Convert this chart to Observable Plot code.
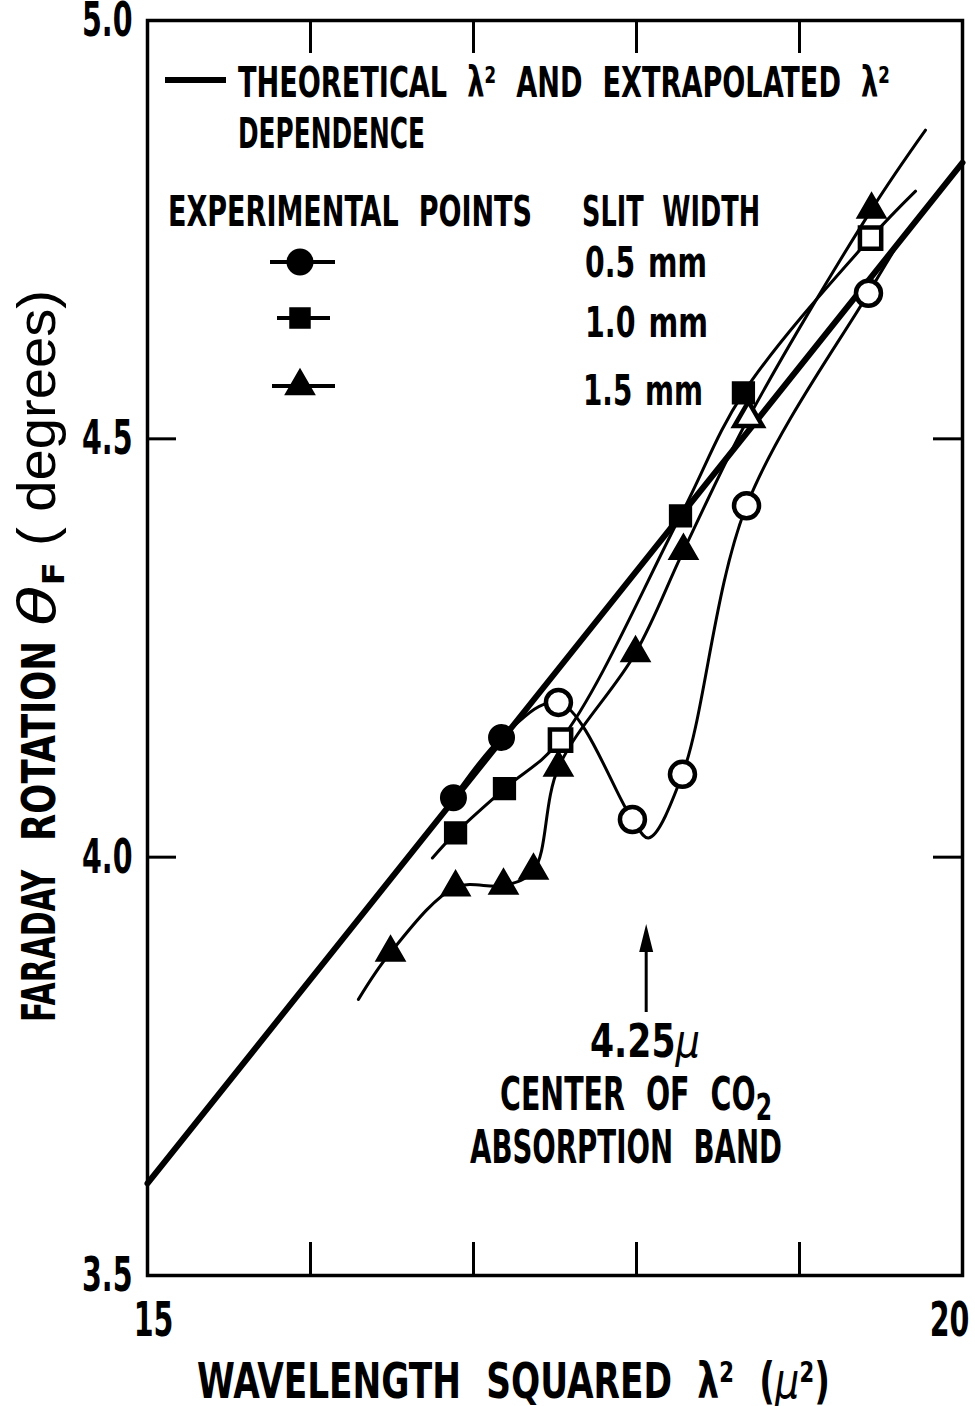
<!DOCTYPE html>
<html>
<head>
<meta charset="utf-8">
<script src="https://cdn.jsdelivr.net/npm/d3@7"></script>
<script src="https://cdn.jsdelivr.net/npm/@observablehq/plot@0.6"></script>
<style>
  html, body { margin: 0; padding: 0; background: #fff; }
</style>
</head>
<body>
<div id="chart"></div>
<script>
// ---------------- data ----------------
// theoretical / extrapolated lambda^2 dependence (straight line)
const theoryX = [15, 20];
const theoryY = [3.61, 4.83];

// slit width 0.5 mm (circles); "" = curve point without marker
const c05X = [16.877, 17.172, 17.521, 17.975, 18.074, 18.282, 18.675, 19.423, 19.589];
const c05Y = [4.071, 4.143, 4.185, 4.045, 4.023, 4.099, 4.420, 4.674, 4.728];
const c05Mark = ["filled", "filled", "open", "open", "", "open", "open", "open", ""];

// slit width 1.0 mm (squares)
const s10X = [16.748, 16.890, 17.190, 17.534, 18.270, 18.656, 19.436, 19.712];
const s10Y = [3.999, 4.029, 4.082, 4.140, 4.408, 4.555, 4.740, 4.796];
const s10Mark = ["", "filled", "filled", "open", "filled", "filled", "open", ""];

// slit width 1.5 mm (triangles)
const t15X = [16.294, 16.491, 16.890, 17.184, 17.368, 17.521, 17.994, 18.288, 18.687, 19.442, 19.773];
const t15Y = [3.830, 3.886, 3.964, 3.966, 3.984, 4.107, 4.244, 4.366, 4.525, 4.774, 4.869];
const t15Mark = ["", "filled", "filled", "filled", "filled", "filled", "filled", "filled", "open", "filled", ""];

// axes
const xInnerTicks = [16, 17, 18, 19];
const yInnerTicks = [4.0, 4.5];
const xTickLabels = [15, 20];
const yTickLabels = [3.5, 4.0, 4.5, 5.0];
const bandCenterMicron = 4.25;

// ---------------- build ----------------
const toRows = (xs, ys, ms) => xs.map((x, i) => ({x, y: ys[i], m: ms ? ms[i] : ""}));
const theory = toRows(theoryX, theoryY);
const c05 = toRows(c05X, c05Y, c05Mark);
const s10 = toRows(s10X, s10Y, s10Mark);
const t15 = toRows(t15X, t15Y, t15Mark);

const FONT = "'Liberation Sans Narrow','Arial Narrow','DejaVu Sans Condensed','Roboto Condensed','Liberation Sans',sans-serif";
const PLAIN = "'Liberation Sans',Arial,sans-serif";

const symbolMarks = (rows, symbol, r) => [
  Plot.dot(rows.filter(d => d.m === "filled"), {x: "x", y: "y", symbol, r, fill: "black", stroke: "black", strokeWidth: 2}),
  Plot.dot(rows.filter(d => d.m === "open"), {x: "x", y: "y", symbol, r, fill: "white", stroke: "black", strokeWidth: 4.5})
];

const plot = Plot.plot({
  width: 975,
  height: 1406,
  marginLeft: 147,
  marginRight: 13,
  marginTop: 20,
  marginBottom: 131,
  x: {domain: [15, 20], axis: null},
  y: {domain: [3.5, 5.0], axis: null},
  style: {background: "white", color: "black", fontFamily: FONT},
  marks: [
    Plot.frame({stroke: "black", strokeWidth: 3.5}),
    Plot.tickX(xInnerTicks, {x: d => d, insetTop: 1222, stroke: "black", strokeWidth: 3}),
    Plot.tickX(xInnerTicks, {x: d => d, insetBottom: 1222, stroke: "black", strokeWidth: 3}),
    Plot.tickY(yInnerTicks, {y: d => d, insetRight: 786, stroke: "black", strokeWidth: 3}),
    Plot.tickY(yInnerTicks, {y: d => d, insetLeft: 786, stroke: "black", strokeWidth: 3}),
    Plot.text(yTickLabels, {y: d => d, text: d => d.toFixed(1), frameAnchor: "left", dx: -15, textAnchor: "end",
      fontSize: 48, fontWeight: "bold", fill: "black"}),
    Plot.text(xTickLabels.slice(0, 1), {x: d => d, text: d => String(d), frameAnchor: "bottom", dy: 60, dx: 6,
      fontSize: 48, fontWeight: "bold", fill: "black"}),
    Plot.text(xTickLabels.slice(1), {x: d => d, text: d => String(d), frameAnchor: "bottom", dy: 60, dx: -13,
      fontSize: 48, fontWeight: "bold", fill: "black"}),
    Plot.line(theory, {x: "x", y: "y", stroke: "black", strokeWidth: 6}),
    Plot.line(c05, {x: "x", y: "y", curve: "catmull-rom", stroke: "black", strokeWidth: 3}),
    Plot.line(s10, {x: "x", y: "y", curve: "catmull-rom", stroke: "black", strokeWidth: 3}),
    Plot.line(t15, {x: "x", y: "y", curve: "catmull-rom", stroke: "black", strokeWidth: 3}),
    ...symbolMarks(c05, "circle", 12.5),
    ...symbolMarks(s10, "square", 12),
    ...symbolMarks(t15, "triangle", 10.5)
  ]
});

document.getElementById("chart").appendChild(plot);
const svg = d3.select(plot);
const sx = plot.scale("x");

// compress the library's tick-label text to the narrow lettering of the original
svg.selectAll('g[aria-label="text"] text').each(function () {
  const w = this.getComputedTextLength();
  this.setAttribute("textLength", (w * 0.66).toFixed(1));
  this.setAttribute("lengthAdjust", "spacingAndGlyphs");
});

// ---------- helper for text ----------
function addText(x, y, html, width, size, opts = {}) {
  const t = svg.append("text")
    .attr("x", x).attr("y", y)
    .attr("text-anchor", "start")
    .attr("font-size", size)
    .attr("font-weight", opts.weight || "bold")
    .attr("font-family", opts.family || FONT)
    .attr("font-style", opts.style || "normal")
    .attr("fill", "black")
    .style("word-spacing", opts.ws || "0.35em")
    .html(html);
  if (opts.transform) t.attr("transform", opts.transform);
  if (width) t.attr("textLength", width).attr("lengthAdjust", "spacingAndGlyphs");
  return t;
}

// ---------- legend ----------
const lg = svg.append("g").attr("stroke", "black");
lg.append("line").attr("x1", 165).attr("x2", 226).attr("y1", 80).attr("y2", 80).attr("stroke-width", 6);
addText(238, 97, "THEORETICAL λ² AND EXTRAPOLATED λ²", 652, 42);
addText(238, 148, "DEPENDENCE", 187, 42);
addText(168, 226, "EXPERIMENTAL POINTS", 364, 42);
addText(582, 226, "SLIT WIDTH", 178, 42);
addText(585, 277, "0.5 mm", 122, 42, {ws: "0.1em"});
addText(585, 337, "1.0 mm", 123, 42, {ws: "0.1em"});
addText(583, 405, "1.5 mm", 120, 42, {ws: "0.1em"});

const legendRows = [
  {y: 262, x1: 270, x2: 335, sym: d3.symbolCircle, r: 12.5},
  {y: 318, x1: 277, x2: 330, sym: d3.symbolSquare, r: 11},
  {y: 386, x1: 272, x2: 335, sym: d3.symbolTriangle, r: 10.5}
];
for (const L of legendRows) {
  lg.append("line").attr("x1", L.x1).attr("x2", L.x2).attr("y1", L.y).attr("y2", L.y).attr("stroke-width", 4);
  lg.append("path").attr("d", d3.symbol(L.sym, Math.PI * L.r * L.r)())
    .attr("transform", `translate(300,${L.y})`).attr("fill", "black").attr("stroke-width", 2);
}

// ---------- CO2 band annotation ----------
const ax = sx.apply(bandCenterMicron * bandCenterMicron);
const ann = svg.append("g");
ann.append("line").attr("x1", ax).attr("x2", ax).attr("y1", 1012).attr("y2", 945)
  .attr("stroke", "black").attr("stroke-width", 3);
ann.append("path").attr("d", `M${ax},924 L${ax - 7},952 L${ax + 7},952 Z`).attr("fill", "black");
addText(590, 1057, "4.25<tspan font-style='italic' font-family='DejaVu Sans' font-weight='normal'>μ</tspan>", 110, 46);
addText(500, 1110, "CENTER OF CO<tspan dy='10' font-size='38'>2</tspan>", 272, 46);
addText(470, 1163, "ABSORPTION BAND", 312, 46);

// ---------- axis titles ----------
addText(197, 1398, "WAVELENGTH SQUARED λ² (<tspan font-style='italic' font-family='DejaVu Sans' font-weight='normal'>μ</tspan>²)", 633, 50);

// y title, rotated, written in its four pieces
const rot = (y) => `translate(55,${y}) rotate(-90)`;
addText(0, 0, "FARADAY", 152, 46, {transform: rot(1022)});
addText(0, 0, "ROTATION", 200, 46, {transform: rot(841)});
addText(0, 0, "θ<tspan dy='9' font-size='30' font-style='normal' font-weight='bold' font-family=\"" + FONT.replace(/"/g, "") + "\">F</tspan>",
  64, 52, {transform: rot(626), family: "DejaVu Sans", weight: "normal", style: "italic"});
addText(0, 0, "( degrees)", 256, 54, {transform: rot(546), family: PLAIN, weight: "normal", ws: "0em"});
</script>
</body>
</html>
